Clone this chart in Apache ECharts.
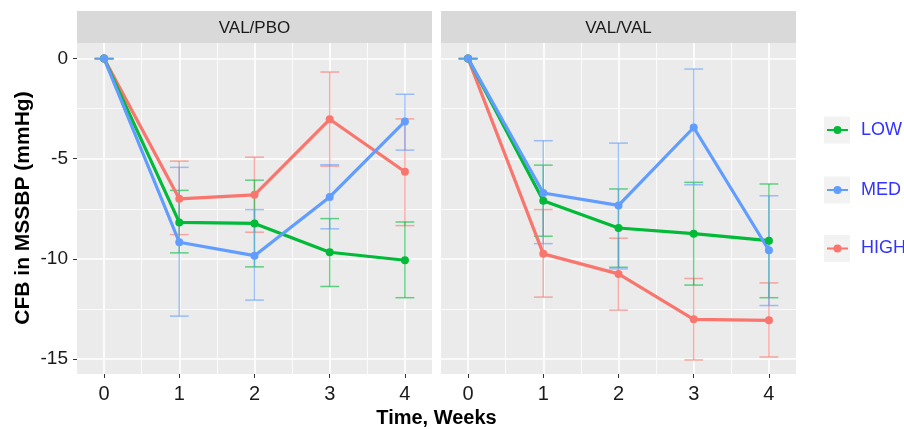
<!DOCTYPE html>
<html>
<head>
<meta charset="utf-8">
<title>CFB in MSSBP</title>
<script src="https://cdn.jsdelivr.net/npm/echarts@6/dist/echarts.min.js"></script>
<style>
  html, body { margin: 0; padding: 0; background: #fff; }
  #chart { width: 904px; height: 429px; }
</style>
</head>
<body>
<div id="chart"></div>
<script>
// x axis: weeks
const weeks = [0, 1, 2, 3, 4];
const minorWeeks = [0.5, 1.5, 2.5, 3.5];
const yTicks = [0, -5, -10, -15];
const yMinor = [-2.5, -7.5, -12.5];
const panels = ["VAL/PBO", "VAL/VAL"];

// draw order (MED on top), legend order is LOW, MED, HIGH
const levels = ["HIGH", "LOW", "MED"];
const legendOrder = ["LOW", "MED", "HIGH"];
const colors = { HIGH: "#F8766D", LOW: "#00BA38", MED: "#619CFF" };

// VAL/PBO means and error bar ends
const pboHigh = [0, -7.0, -6.8, -3.03, -5.65];
const pboHighLo = [0, -8.79, -8.67, -5.37, -8.34];
const pboHighHi = [0, -5.12, -4.92, -0.67, -3.01];
const pboLow = [0, -8.18, -8.23, -9.67, -10.07];
const pboLowLo = [0, -9.7, -10.4, -11.38, -11.94];
const pboLowHi = [0, -6.58, -6.07, -7.99, -8.16];
const pboMed = [0, -9.17, -9.84, -6.91, -3.14];
const pboMedLo = [0, -12.86, -12.06, -8.5, -4.57];
const pboMedHi = [0, -5.43, -7.54, -5.3, -1.78];

// VAL/VAL means and error bar ends
const valHigh = [0, -9.75, -10.75, -13.02, -13.07];
const valHighLo = [0, -11.91, -12.56, -15.05, -14.9];
const valHighHi = [0, -7.54, -8.97, -10.98, -11.2];
const valLow = [0, -7.1, -8.46, -8.74, -9.09];
const valLowLo = [0, -8.87, -10.42, -11.31, -11.94];
const valLowHi = [0, -5.32, -6.51, -6.18, -6.26];
const valMed = [0, -6.71, -7.33, -3.44, -9.57];
const valMedLo = [0, -9.24, -10.5, -6.3, -12.33];
const valMedHi = [0, -4.1, -4.22, -0.52, -6.85];

const means = [
    { HIGH: pboHigh, LOW: pboLow, MED: pboMed },
    { HIGH: valHigh, LOW: valLow, MED: valMed },
];
const lows = [
    { HIGH: pboHighLo, LOW: pboLowLo, MED: pboMedLo },
    { HIGH: valHighLo, LOW: valLowLo, MED: valMedLo },
];
const highs = [
    { HIGH: pboHighHi, LOW: pboLowHi, MED: pboMedHi },
    { HIGH: valHighHi, LOW: valLowHi, MED: valMedHi },
];

const FONT = "Liberation Sans, Arial, sans-serif";
const CAP = 0.25; // error bar width in weeks

const panelLeft = [77, 441];
const panelW = 355;
const panelTop = 43;
const panelH = 331;

const chart = echarts.init(document.getElementById("chart"));

// 误差线
const errorBar = (params, api) => {
    const x = api.value(0);
    const top = api.coord([x, api.value(2)]);
    const bot = api.coord([x, api.value(1)]);
    const l = api.coord([x - CAP / 2, 0])[0];
    const r = api.coord([x + CAP / 2, 0])[0];
    const style = { stroke: api.visual("color"), lineWidth: 1.5, opacity: 0.6 };
    return {
        type: "group",
        children: [
            { type: "line", shape: { x1: top[0], y1: top[1], x2: bot[0], y2: bot[1] }, style },
            { type: "line", shape: { x1: l, y1: top[1], x2: r, y2: top[1] }, style },
            { type: "line", shape: { x1: l, y1: bot[1], x2: r, y2: bot[1] }, style },
        ],
    };
};

const grids = [];
const xAxes = [];
const yAxes = [];
const lineSeries = [];
const barSeries = [];
const graphics = [];

panels.forEach((name, p) => {
    grids.push({ left: panelLeft[p], top: panelTop, width: panelW, height: panelH, show: true, backgroundColor: "#EBEBEB", borderWidth: 0 });

    // major axes (index 2p), minor grid axes (index 2p+1)
    xAxes.push({
        gridIndex: p, type: "value", min: -0.36, max: 4.36, position: "bottom",
        axisLine: { show: false, onZero: false },
        axisTick: { show: true, length: 4, customValues: weeks, lineStyle: { color: "#333", width: 1 } },
        axisLabel: { customValues: weeks, fontSize: 20, color: "#1a1a1a", fontFamily: FONT, margin: 10 },
        splitLine: { show: true, lineStyle: { color: "#fff", width: 1.6 } },
    });
    xAxes.push({
        gridIndex: p, type: "value", min: -0.36, max: 4.36, position: "top",
        axisLine: { show: false, onZero: false },
        axisTick: { show: false, customValues: minorWeeks },
        axisLabel: { show: false },
        splitLine: { show: true, lineStyle: { color: "#fff", width: 0.8 } },
    });
    yAxes.push({
        gridIndex: p, type: "value", min: -15.75, max: 0.78, position: "left",
        axisLine: { show: false, onZero: false },
        axisTick: { show: p === 0, length: 4, customValues: yTicks, lineStyle: { color: "#333", width: 1 } },
        axisLabel: { show: p === 0, customValues: yTicks, fontSize: 19, color: "#1a1a1a", fontFamily: FONT, margin: 9 },
        splitLine: { show: true, lineStyle: { color: "#fff", width: 1.6 } },
    });
    yAxes.push({
        gridIndex: p, type: "value", min: -15.75, max: 0.78, position: "right",
        axisLine: { show: false, onZero: false },
        axisTick: { show: false, customValues: yMinor },
        axisLabel: { show: false },
        splitLine: { show: true, lineStyle: { color: "#fff", width: 0.8 } },
    });

    levels.forEach((lv) => {
        lineSeries.push({
            name: lv,
            type: "line",
            xAxisIndex: 2 * p,
            yAxisIndex: 2 * p,
            data: weeks.map((w, i) => [w, means[p][lv][i]]),
            symbol: "circle",
            symbolSize: 8,
            color: colors[lv],
            lineStyle: { width: 3.2, color: colors[lv] },
            itemStyle: { color: colors[lv] },
            z: 3,
            animation: false,
        });
        barSeries.push({
            name: lv,
            type: "custom",
            xAxisIndex: 2 * p,
            yAxisIndex: 2 * p,
            renderItem: errorBar,
            data: weeks.map((w, i) => [w, lows[p][lv][i], highs[p][lv][i]]),
            itemStyle: { color: colors[lv] },
            encode: { x: 0, y: [1, 2] },
            z: 1,
            animation: false,
        });
    });

    // 分面标题条
    graphics.push({ type: "rect", left: panelLeft[p], top: 11, shape: { width: panelW, height: 32 }, style: { fill: "#D9D9D9" } });
    graphics.push({
        type: "text", x: panelLeft[p] + panelW / 2, y: 28,
        style: { text: name, font: "17px " + FONT, fill: "#1a1a1a", align: "center", verticalAlign: "middle" },
    });
});

// legend keys
const keyCenters = [130, 190, 248.5];
const legends = legendOrder.map((lv, i) => ({
    data: [lv],
    left: 826,
    top: keyCenters[i] - 9,
    orient: "vertical",
    padding: 0,
    itemWidth: 21,
    itemHeight: 10,
    selectedMode: false,
    textStyle: { color: "#3333FF", fontSize: 18, fontFamily: FONT, padding: [0, 0, 0, 8] },
}));
keyCenters.forEach((c) => {
    graphics.push({ type: "rect", left: 824, top: c - 13.5, shape: { width: 26, height: 27 }, style: { fill: "#F2F2F2" }, z: -1 });
});

// axis titles
graphics.push({
    type: "text", x: 436.5, y: 418,
    style: { text: "Time, Weeks", font: "bold 20px " + FONT, fill: "#000", align: "center", verticalAlign: "middle" },
});
graphics.push({
    type: "text", x: 23.5, y: 208, rotation: Math.PI / 2,
    style: { text: "CFB in MSSBP (mmHg)", font: "bold 21px " + FONT, fill: "#000", align: "center", verticalAlign: "middle" },
});

chart.setOption({
    animation: false,
    backgroundColor: "#fff",
    grid: grids,
    xAxis: xAxes,
    yAxis: yAxes,
    legend: legends,
    graphic: { elements: graphics },
    series: lineSeries.concat(barSeries),
});
</script>
</body>
</html>
